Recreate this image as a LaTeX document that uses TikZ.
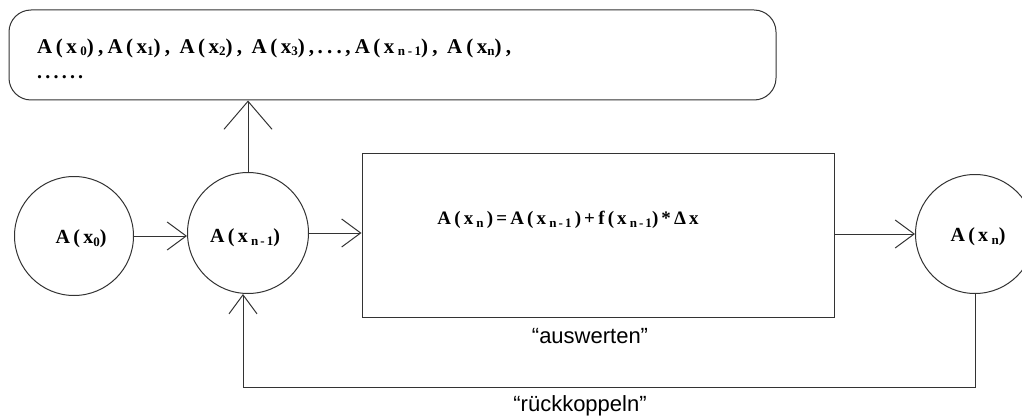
\documentclass[tikz,border=0pt]{standalone}
\usepackage{fontspec}
\setmainfont{Liberation Serif}
\setsansfont{Liberation Sans}
\usetikzlibrary{arrows.meta,calc}
\newcommand\sbx[1]{\raisebox{-0.3ex}{\fontsize{13}{13}\selectfont #1}}
\tikzset{
  every node/.style={inner sep=0pt},
  ln/.style={line width=1pt, draw=black!80},
  arrS/.style={ln, -{Straight Barb[length=19pt,width=28pt,line width=1pt]}},
  arrB/.style={ln, -{Straight Barb[length=28pt,width=48pt,line width=1pt]}},
  circ/.style={ln, circle, minimum size=119pt},
  frm/.style={font=\fontsize{20}{24}\selectfont\bfseries\addfontfeature{LetterSpace=16}},
  frmS/.style={font=\fontsize{21}{25}\selectfont\bfseries\addfontfeature{LetterSpace=20}},
  frmF/.style={font=\fontsize{19}{23}\selectfont\bfseries\addfontfeature{LetterSpace=16}},
  lbl/.style={font=\sffamily\fontsize{22}{26}\selectfont},
}
\begin{document}
\begin{tikzpicture}[x=1pt,y=-1pt]
\useasboundingbox (0,0) rectangle (1022,417);
% top list box
\node[ln, draw, rounded corners=22pt, minimum width=767pt, minimum height=90pt] (list) at (392.5,55) {};
\node[frmS, anchor=west] (seq) at (37,48) {A\,(\,x\,\sbx{0}),A\,(\,x\sbx{1}), A\,(\,x\sbx{2}), A\,(\,x\sbx{3}),\,...\,,A\,(\,x\,\sbx{n-1}), A(\,x\sbx{n}),};
\node[frm, anchor=west] (dots) at (37,77) {......};
% circles and box
\node[circ, draw] (c1) at (74,236) {};
\node[frm] (t1) at (81,239) {A\,(\,x\sbx{0})};
\node[circ, draw, minimum size=121pt] (c2) at (248,233) {};
\node[frm] (t2) at (245,238) {A\,(\,x\,\sbx{n-1})};
\node[ln, draw, minimum width=472pt, minimum height=164pt] (rect) at (598,235) {};
\node[frmF] (f) at (568,220) {A\,(\,x\,\sbx{n}\,)\,=\,A\,(\,x\,\sbx{n-1}\,)\,+\,f\,(x\,\sbx{n-1})\,*\,Δx};
\node[circ, draw] (c3) at (975,234) {};
\node[frm] (t3) at (978,237) {A\,(x\,\sbx{n})};
% labels
\node[lbl] (aus) at (590,336) {“auswerten”};
\node[lbl] (ruck) at (580,406) {“rückkoppeln”};
% connectors
\draw[arrS] (c1.east) -- (c2.west |- c1.east);
\draw[arrS] (c2.east) -- (rect.west |- c2.east);
\draw[arrS] (rect.east |- c3.west) -- (c3.west);
\draw[arrB] (c2.north) -- (c2.north |- list.south);
\coordinate (fb) at ($(c2.south)+(-5,0)$);
\draw[arrS] (c3.south) -- (c3.south |- 0,387) -| (fb);
\end{tikzpicture}
\end{document}
